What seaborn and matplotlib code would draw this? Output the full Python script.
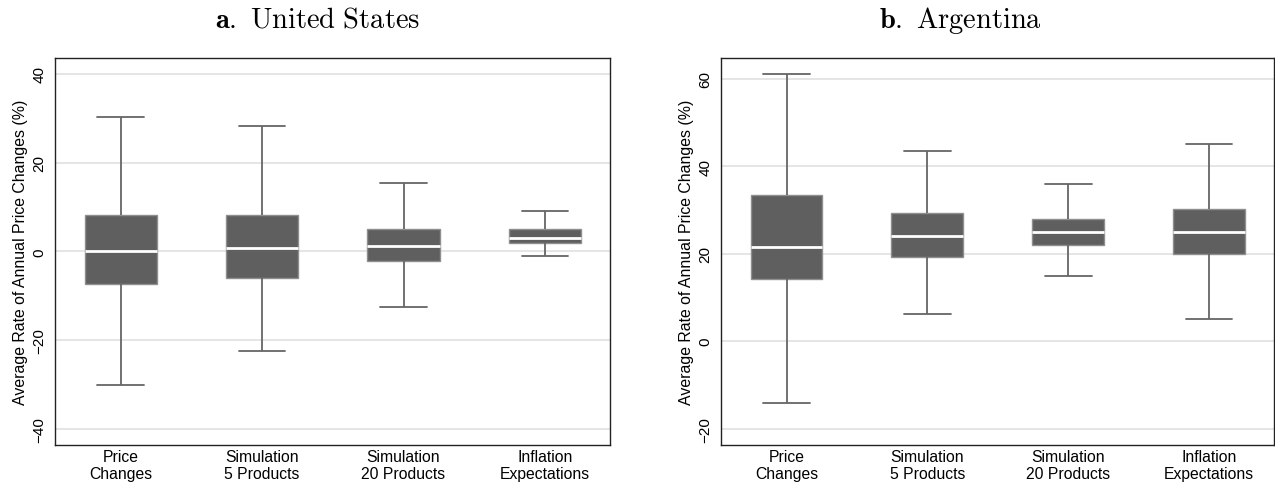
import numpy as np
import pandas as pd
import matplotlib
matplotlib.use("Agg")
import matplotlib.pyplot as plt
import seaborn as sns

categories = ["Price\nChanges", "Simulation\n5 Products", "Simulation\n20 Products", "Inflation\nExpectations"]

# five-number summaries (whisker low, Q1, median, Q3, whisker high)
us_lower = [-30.2, -22.6, -12.6, -1.0]
us_q1 = [-7.4, -6.0, -2.3, 1.8]
us_median = [0.0, 0.8, 1.3, 3.0]
us_q3 = [8.1, 8.1, 5.1, 5.1]
us_upper = [30.2, 28.3, 15.4, 9.0]

ar_lower = [-14.0, 6.2, 14.8, 5.1]
ar_q1 = [14.2, 19.3, 22.0, 19.9]
ar_median = [21.6, 24.0, 25.0, 25.0]
ar_q3 = [33.5, 29.4, 27.9, 30.1]
ar_upper = [61.1, 43.5, 36.0, 45.0]

us_ticks = [-40, -20, 0, 20, 40]
ar_ticks = [-20, 0, 20, 40, 60]

titles = [r"$\mathbf{a.}\ \mathrm{United\ States}$", r"$\mathbf{b.}\ \mathrm{Argentina}$"]
ylabel = "Average Rate of Annual Price Changes (%)"


def long_frame(lo, q1, med, q3, hi):
    rows = []
    for i, c in enumerate(categories):
        for v in (lo[i], q1[i], med[i], q3[i], hi[i]):
            rows.append({"category": c, "value": v})
    return pd.DataFrame(rows)


sns.set_style("white")
plt.rcParams["font.family"] = ["Liberation Sans", "DejaVu Sans"]
plt.rcParams["mathtext.fontset"] = "cm"
plt.rcParams["text.color"] = "black"
plt.rcParams["axes.labelcolor"] = "black"
plt.rcParams["xtick.color"] = "black"
plt.rcParams["ytick.color"] = "black"

W, H = 1275, 485
fig = plt.figure(figsize=(W / 100, H / 100), dpi=100)

panels = [
    (long_frame(us_lower, us_q1, us_median, us_q3, us_upper), us_ticks, (-43.7, 43.6), 55, 610),
    (long_frame(ar_lower, ar_q1, ar_median, ar_q3, ar_upper), ar_ticks, (-23.7, 64.7), 721, 1274),
]
title_x = [318, 960]

BOX = "#5f5f5f"
LINE = "#666666"

for k, (df, ticks, ylim, x0, x1) in enumerate(panels):
    top, bot = 59, 446
    ax = fig.add_axes([x0 / W, 1 - bot / H, (x1 - x0) / W, (bot - top) / H])
    sns.boxplot(
        data=df, x="category", y="value", order=categories, ax=ax,
        color=BOX, saturation=1, width=0.51, whis=(0, 100), fliersize=0,
        linecolor=LINE, linewidth=1.3,
        boxprops=dict(edgecolor="#8f8f8f", linewidth=1.0),
        medianprops=dict(color="white", linewidth=2.0),
        capwidths=0.33,
    )
    ax.set_xlim(-0.465, 3.46)
    ax.set_ylim(*ylim)
    ax.set_yticks(ticks)
    ax.set_yticklabels([str(t).replace("-", "\u2212") for t in ticks])
    ax.yaxis.grid(True, color="#e3e3e3", linewidth=1.3)
    ax.xaxis.grid(False)
    ax.set_axisbelow(True)
    ax.set_xlabel("")
    ax.set_ylabel(ylabel, fontsize=11.4, labelpad=3, color="black")
    ax.tick_params(axis="y", length=4, width=1, color="#555555", pad=2, labelsize=11, labelcolor="black")
    ax.tick_params(axis="x", length=0, pad=3, labelsize=11.3, labelcolor="black")
    for lbl in ax.get_yticklabels():
        lbl.set_rotation(90)
        lbl.set_va("center")
    for lbl in ax.get_xticklabels():
        lbl.set_linespacing(1.15)
    for s in ax.spines.values():
        s.set_visible(True)
        s.set_color("#222222")
        s.set_linewidth(1.0)
    fig.text(title_x[k] / W, 1 - 21 / H, titles[k], ha="center", va="center", fontsize=20.5)

fig.savefig("out.png", dpi=100)
